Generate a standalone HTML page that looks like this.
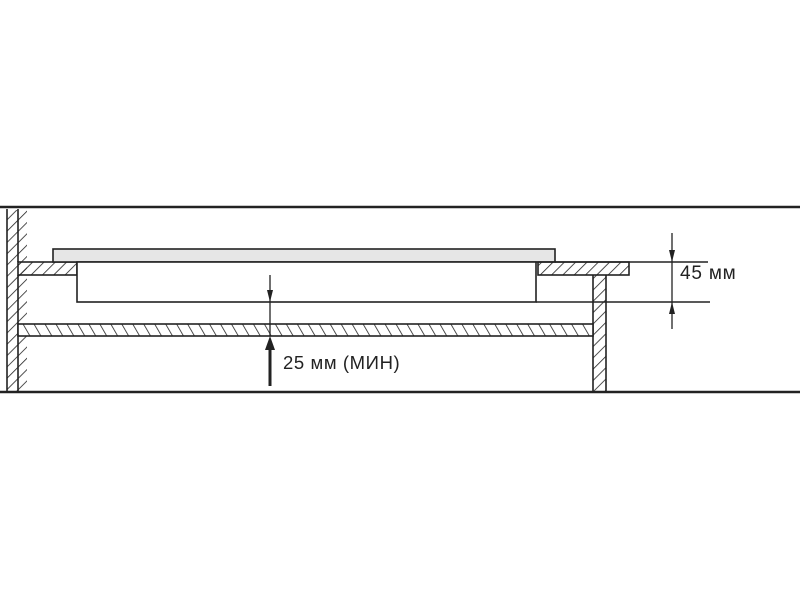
<!DOCTYPE html>
<html><head><meta charset="utf-8"><style>
html,body{margin:0;padding:0;background:#fff;}
svg{display:block}
text{font-family:"Liberation Sans",sans-serif;fill:#222}
</style></head><body>
<svg width="800" height="600" viewBox="0 0 800 600" xmlns="http://www.w3.org/2000/svg">
<defs>
<pattern id="hf" width="8" height="8" patternUnits="userSpaceOnUse" patternTransform="rotate(45)">
<line x1="0" y1="0" x2="0" y2="8" stroke="#222" stroke-width="1.6"/>
</pattern>
<pattern id="hb" width="9.5" height="9.5" patternUnits="userSpaceOnUse" patternTransform="rotate(-30)">
<line x1="0" y1="0" x2="0" y2="9.5" stroke="#222" stroke-width="1.6"/>
</pattern>
</defs>
<g stroke="#222" fill="none" stroke-width="1.6">
<line x1="0" y1="207" x2="800" y2="207" stroke-width="2.5"/>
<line x1="0" y1="392" x2="800" y2="392" stroke-width="2.5"/>
<!-- left wall -->
<rect x="7" y="210" width="20" height="181" fill="url(#hf)" stroke="none"/>
<line x1="7" y1="209" x2="7" y2="392"/>
<line x1="18" y1="209" x2="18" y2="262"/>
<line x1="18" y1="275" x2="18" y2="392"/>
<!-- left slab -->
<rect x="18" y="262" width="59" height="13" fill="url(#hf)"/>
<!-- glass -->
<rect x="53" y="249" width="502" height="13" fill="#e6e6e6"/>
<!-- hob body -->
<rect x="77" y="262" width="459" height="40" fill="#fff"/>
<!-- right slab -->
<rect x="538" y="262" width="91" height="13" fill="url(#hf)"/>
<!-- right wall -->
<rect x="593" y="275" width="13" height="116" fill="url(#hf)" stroke="none"/>
<line x1="593" y1="275" x2="593" y2="392"/>
<line x1="606" y1="275" x2="606" y2="392"/>
<!-- shelf -->
<rect x="18" y="324" width="575" height="12" fill="#fff" stroke="none"/>
<rect x="18" y="324" width="575" height="12" fill="url(#hb)"/>
<line x1="555" y1="262" x2="708" y2="262"/>
<line x1="536" y1="302" x2="710" y2="302"/>
</g>
<line x1="672" y1="233" x2="672" y2="329" stroke="#222" stroke-width="1.3"/>
<polygon points="669,250 675,250 672,262" fill="#222"/>
<polygon points="669,314 675,314 672,302" fill="#222"/>
<text x="680" y="279" font-size="19" letter-spacing="0.8">45 мм</text>
<line x1="270" y1="275" x2="270" y2="336" stroke="#222" stroke-width="1.3"/>
<polygon points="267,290 273,290 270,302" fill="#222"/>
<line x1="270" y1="348" x2="270" y2="386" stroke="#222" stroke-width="3"/>
<polygon points="265,350 275,350 270,336" fill="#222"/>
<text x="283" y="369" font-size="18.5" letter-spacing="0.6">25 мм (МИН)</text>
</svg>
</body></html>
